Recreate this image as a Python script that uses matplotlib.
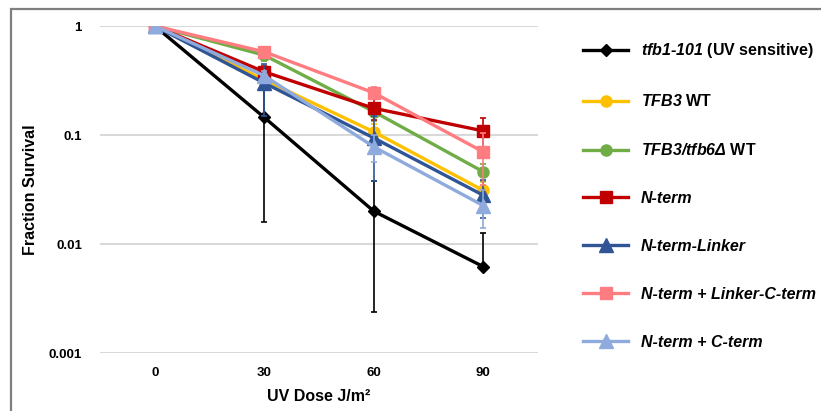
import numpy as np
import matplotlib
matplotlib.use('Agg')
import matplotlib.pyplot as plt
from matplotlib.patches import Rectangle

plt.rcParams['font.family'] = ['Liberation Sans', 'DejaVu Sans']
plt.rcParams['font.weight'] = 'bold'
plt.rcParams['mathtext.fontset'] = 'custom'
plt.rcParams['mathtext.cal'] = 'Liberation Sans:italic:bold'
plt.rcParams['mathtext.rm'] = 'Liberation Sans:bold'

# data
doses = ['0', '30', '60', '90']
tfb1 = [1, 0.145, 0.020, 0.0062]
tfb1_err = [0, 0.129, 0.0176, 0.0063]
tfb3_wt = [1, 0.32, 0.107, 0.031]
tfb3_wt_err = [0, 0.04, 0.02, 0.006]
tfb3_tfb6 = [1, 0.54, 0.164, 0.046]
tfb3_tfb6_err = [0, 0.06, 0.03, 0.008]
nterm = [1, 0.38, 0.176, 0.109]
nterm_err = [0, 0.05, 0.04, 0.033]
nterm_linker = [1, 0.30, 0.094, 0.028]
nterm_linker_err = [0, 0.15, 0.056, 0.0105]
nterm_lc = [1, 0.58, 0.244, 0.070]
nterm_lc_err = [0, 0.05, 0.03, 0.035]
nterm_c = [1, 0.35, 0.078, 0.0225]
nterm_c_err = [0, 0.04, 0.022, 0.0085]

labels = [r'$\mathcal{tfb1}$-$\mathcal{101}$ (UV sensitive)',
          r'$\mathcal{TFB3}$ WT',
          r'$\mathcal{TFB3/tfb6Δ}$ WT',
          'N-term',
          'N-term-Linker',
          'N-term + Linker-C-term',
          'N-term + C-term']
series = [tfb1, tfb3_wt, tfb3_tfb6, nterm, nterm_linker, nterm_lc, nterm_c]
errs = [tfb1_err, tfb3_wt_err, tfb3_tfb6_err, nterm_err, nterm_linker_err,
        nterm_lc_err, nterm_c_err]
colors = ['#000000', '#FFC000', '#70AD47', '#C00000', '#2F5597', '#FF7C80', '#8FAADC']
markers = ['D', 'o', 'o', 's', '^', 's', '^']
msizes = [6, 8, 8, 8, 9.5, 8, 9.5]

fig = plt.figure(figsize=(8.21, 4.11), dpi=100)
ax = fig.add_axes([100/821, 1-353/411, 438/821, 327/411])

x = np.arange(len(doses))
handles = []
for i, (v, e) in enumerate(zip(series, errs)):
    v = np.array(v, dtype=float)
    e = np.array(e, dtype=float)
    lo = np.where(v - e > 0, e, 0)
    ax.errorbar(x, v, yerr=[lo, e], fmt='none', ecolor=colors[i],
                elinewidth=1.2, capsize=2.5, capthick=1.2, zorder=2+i)
    h, = ax.plot(x, v, color=colors[i], lw=2.4, marker=markers[i],
                 ms=msizes[i], zorder=2+i)
    handles.append(h)

ax.set_yscale('log')
ax.set_ylim(0.001, 1)
ax.set_xlim(-0.5, 3.5)
ax.set_xticks(x)
ax.set_xticklabels(doses)
ax.set_yticks([0.001, 0.01, 0.1, 1])
ax.set_yticklabels(['0.001', '0.01', '0.1', '1'])
ax.minorticks_off()
ax.tick_params(axis='both', length=0, labelsize=9.5)
ax.tick_params(axis='y', pad=13)
ax.tick_params(axis='x', pad=10)
ax.grid(axis='y', color='#D9D9D9', lw=1.5)
ax.set_axisbelow(True)
for s in ax.spines.values():
    s.set_visible(False)

ax.set_ylabel('Fraction Survival', fontsize=11.5, fontweight='bold', labelpad=8)
ax.set_xlabel('UV Dose J/m²', fontsize=11.5, fontweight='bold', labelpad=7)

leg = fig.legend(handles, labels, loc='upper left',
                 bbox_to_anchor=(569/821, 1-27/411), frameon=False,
                 fontsize=11.5, handlelength=2.82, handletextpad=0.8,
                 labelspacing=2.06)
for t in leg.get_texts()[3:]:
    t.set_fontstyle('italic')

fig.patches.append(Rectangle((11/821, -0.05), 1.0, 1-9/411+0.05,
                             transform=fig.transFigure, fill=False,
                             edgecolor='#7F7F7F', lw=1.6))

fig.savefig('out.png', dpi=100)
